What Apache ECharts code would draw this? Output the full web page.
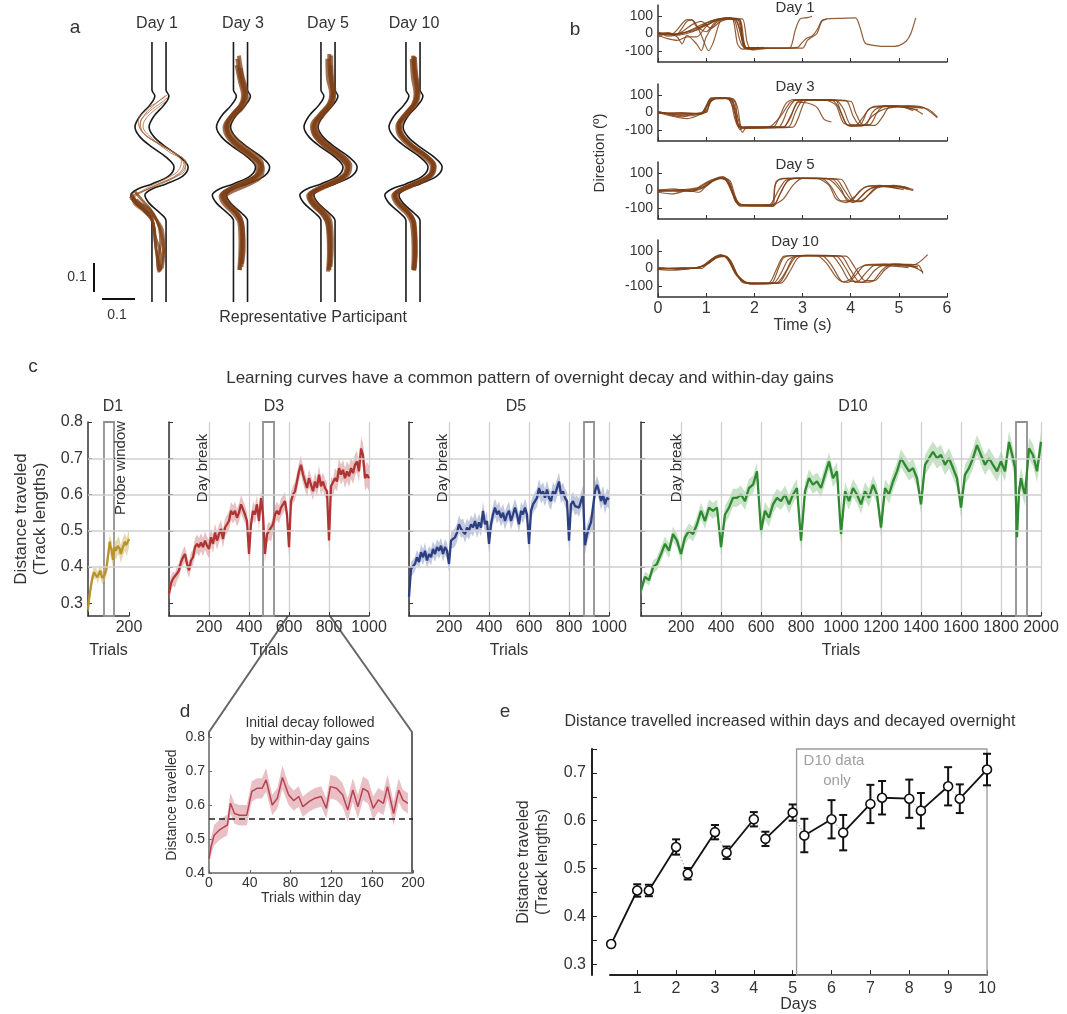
<!DOCTYPE html>
<html><head><meta charset="utf-8">
<script src="https://cdn.jsdelivr.net/npm/echarts/dist/echarts.min.js"></script>
<style>html,body{margin:0;padding:0;background:#fff}#chart{width:1067px;height:1014px}</style>
</head><body><div id="chart"></div>
<script>
// ================= DATA =================
// Panel a: track walls, in track-length units (x relative to track centre, y = height above track bottom)
const trackLeft = [[-0.022,0.8125],[-0.022,0.6625],[-0.013,0.644],[-0.028,0.616],[-0.0595,0.581],[-0.075,0.547],[-0.0595,0.516],[-0.022,0.484],[0.022,0.453],[0.047,0.422],[0.031,0.394],[-0.022,0.369],[-0.066,0.353],[-0.088,0.334],[-0.075,0.309],[-0.041,0.278],[-0.022,0.253],[-0.022,0]];
const trackRight = [[0.022,0.8125],[0.022,0.6625],[0.031,0.644],[0.016,0.616],[-0.0155,0.581],[-0.031,0.547],[-0.0155,0.516],[0.022,0.484],[0.066,0.453],[0.091,0.422],[0.075,0.394],[0.022,0.369],[-0.022,0.353],[-0.044,0.334],[-0.031,0.309],[0.003,0.278],[0.022,0.253],[0.022,0]];
const aDayLabels = ['Day 1','Day 3','Day 5','Day 10'];
const aTrajDay1Thin = [
 [[0.028,0.64],[0.01,0.625],[-0.03,0.595],[-0.058,0.56],[-0.05,0.53],[-0.01,0.5],[0.05,0.465],[0.085,0.435],[0.07,0.405],[0.02,0.375],[-0.04,0.35],[-0.08,0.33],[-0.07,0.3],[-0.03,0.27],[-0.01,0.22]],
 [[0.02,0.645],[-0.01,0.62],[-0.045,0.585],[-0.06,0.55],[-0.04,0.52],[0.01,0.49],[0.06,0.455],[0.078,0.43],[0.06,0.4],[0.0,0.37],[-0.05,0.345],[-0.085,0.325],[-0.075,0.3],[-0.04,0.28],[-0.015,0.24]],
 [[0.025,0.63],[0.0,0.61],[-0.035,0.58],[-0.05,0.55],[-0.02,0.51],[0.03,0.47],[0.07,0.44],[0.06,0.41],[0.03,0.39],[-0.03,0.36],[-0.07,0.335],[-0.08,0.315],[-0.06,0.29],[-0.02,0.255]],
 [[0.03,0.65],[0.0,0.628],[-0.04,0.6],[-0.065,0.565],[-0.055,0.535],[-0.02,0.505],[0.04,0.47],[0.08,0.44],[0.082,0.415],[0.05,0.39],[-0.01,0.365],[-0.06,0.34],[-0.09,0.32]]
];
const aTrajDay1 = [
 [[-0.09,0.33],[-0.075,0.31],[-0.045,0.285],[-0.02,0.25],[-0.01,0.2],[0.005,0.15],[0.0,0.11],[0.005,0.095]],
 [[-0.085,0.34],[-0.07,0.315],[-0.03,0.29],[-0.005,0.25],[0.01,0.2],[0.015,0.15],[0.01,0.105]],
 [[-0.08,0.325],[-0.06,0.3],[-0.025,0.27],[-0.015,0.22],[-0.01,0.17],[0.0,0.12],[0.008,0.1]],
 [[-0.075,0.345],[-0.05,0.315],[-0.02,0.28],[0.0,0.235],[0.005,0.18],[-0.005,0.13],[0.0,0.092]],
 [[-0.07,0.32],[-0.045,0.295],[-0.01,0.26],[0.012,0.22],[0.015,0.17],[0.01,0.13],[0.004,0.1]],
 [[-0.088,0.335],[-0.065,0.305],[-0.035,0.28],[-0.018,0.245],[-0.012,0.19],[-0.006,0.14],[-0.002,0.098]]
];
const aTrajDay3 = [
 [[-0.01,0.76],[0.0,0.70],[0.012,0.65],[0.005,0.62],[-0.025,0.585],[-0.045,0.55],[-0.035,0.52],[0.0,0.485],[0.04,0.455],[0.062,0.425],[0.05,0.395],[0.0,0.37],[-0.04,0.35],[-0.058,0.335],[-0.045,0.31],[-0.015,0.28],[0.0,0.25],[0.005,0.2],[0.0,0.12],[-0.002,0.1]],
 [[-0.005,0.77],[0.005,0.71],[0.018,0.655],[0.01,0.625],[-0.02,0.59],[-0.04,0.555],[-0.03,0.525],[0.005,0.49],[0.045,0.46],[0.068,0.43],[0.058,0.40],[0.01,0.372],[-0.035,0.352],[-0.052,0.338],[-0.04,0.312],[-0.01,0.28],[0.004,0.25],[0.008,0.19],[0.003,0.11]],
 [[-0.012,0.74],[-0.002,0.69],[0.008,0.645],[0.0,0.615],[-0.03,0.58],[-0.05,0.545],[-0.04,0.515],[-0.005,0.48],[0.035,0.45],[0.055,0.42],[0.045,0.39],[-0.005,0.365],[-0.045,0.345],[-0.062,0.33],[-0.05,0.305],[-0.02,0.275],[-0.003,0.245],[0.0,0.18],[-0.004,0.1]],
 [[0.0,0.73],[0.01,0.68],[0.02,0.64],[0.008,0.61],[-0.022,0.578],[-0.042,0.542],[-0.032,0.512],[0.004,0.478],[0.046,0.448],[0.07,0.418],[0.06,0.388],[0.012,0.362],[-0.033,0.342],[-0.05,0.327],[-0.038,0.302],[-0.008,0.272],[0.006,0.242],[0.01,0.17],[0.005,0.12]]
];
const aTrajDay5 = [
 [[0.004,0.775],[0.006,0.72],[0.014,0.66],[0.008,0.625],[-0.02,0.59],[-0.042,0.555],[-0.035,0.525],[0.0,0.49],[0.042,0.458],[0.064,0.428],[0.052,0.398],[0.004,0.372],[-0.04,0.35],[-0.056,0.335],[-0.045,0.31],[-0.012,0.278],[0.004,0.245],[0.008,0.17],[0.004,0.1]],
 [[0.01,0.77],[0.012,0.71],[0.02,0.655],[0.012,0.62],[-0.015,0.585],[-0.036,0.55],[-0.028,0.52],[0.006,0.486],[0.048,0.455],[0.07,0.426],[0.06,0.396],[0.012,0.37],[-0.034,0.35],[-0.05,0.336],[-0.04,0.312],[-0.008,0.28],[0.008,0.25],[0.012,0.18],[0.008,0.11]],
 [[-0.002,0.76],[0.0,0.70],[0.01,0.65],[0.002,0.618],[-0.028,0.583],[-0.05,0.55],[-0.042,0.52],[-0.006,0.484],[0.036,0.452],[0.058,0.422],[0.046,0.392],[-0.002,0.366],[-0.046,0.346],[-0.062,0.332],[-0.05,0.306],[-0.018,0.274],[-0.002,0.244],[0.003,0.16],[0.0,0.095]],
 [[0.008,0.74],[0.01,0.69],[0.018,0.645],[0.006,0.612],[-0.024,0.58],[-0.046,0.545],[-0.038,0.515],[-0.002,0.48],[0.04,0.45],[0.062,0.42],[0.05,0.39],[0.0,0.364],[-0.042,0.344],[-0.058,0.33],[-0.046,0.304],[-0.014,0.272],[0.0,0.24],[0.006,0.15],[0.002,0.1]]
];
const aTrajDay10 = [
 [[0.0,0.77],[0.004,0.72],[0.012,0.66],[0.006,0.625],[-0.022,0.59],[-0.045,0.553],[-0.037,0.522],[-0.002,0.487],[0.04,0.456],[0.063,0.426],[0.052,0.396],[0.003,0.37],[-0.042,0.35],[-0.058,0.335],[-0.046,0.31],[-0.014,0.278],[0.002,0.246],[0.006,0.17],[0.003,0.1]],
 [[0.006,0.765],[0.01,0.71],[0.018,0.655],[0.01,0.62],[-0.017,0.586],[-0.04,0.55],[-0.032,0.52],[0.003,0.485],[0.045,0.454],[0.068,0.424],[0.057,0.394],[0.008,0.368],[-0.037,0.348],[-0.053,0.334],[-0.041,0.308],[-0.01,0.276],[0.005,0.245],[0.009,0.16],[0.005,0.105]],
 [[-0.004,0.76],[0.0,0.70],[0.008,0.65],[0.0,0.616],[-0.027,0.582],[-0.049,0.548],[-0.041,0.518],[-0.006,0.483],[0.036,0.452],[0.059,0.422],[0.048,0.392],[-0.002,0.366],[-0.046,0.346],[-0.062,0.332],[-0.05,0.306],[-0.018,0.274],[-0.003,0.243],[0.002,0.15],[0.0,0.1]],
 [[0.003,0.768],[0.007,0.715],[0.015,0.658],[0.008,0.623],[-0.02,0.588],[-0.043,0.552],[-0.035,0.521],[0.0,0.486],[0.043,0.455],[0.066,0.425],[0.055,0.395],[0.005,0.369],[-0.04,0.349],[-0.056,0.334],[-0.044,0.309],[-0.012,0.277],[0.003,0.246],[0.007,0.165],[0.004,0.098]]
];

// Panel b: heading direction (deg) vs time (s), [t, deg]
const bYTicks = [-100, 0, 100];
const bDayLabels = ['Day 1','Day 3','Day 5','Day 10'];
const bTraceDay1 = [
 [[0,-5],[0.2,5],[0.4,-10],[0.6,0],[0.8,20],[1.0,60],[1.2,80],[1.4,85],[1.6,80],[1.7,20],[1.8,-80],[2.0,-82],[2.2,-80]],
 [[0,10],[0.2,-15],[0.4,-5],[0.6,70],[0.7,80],[0.8,40],[1.0,10],[1.2,70],[1.4,90],[1.55,85],[1.65,-60],[1.75,-90],[2.1,-80]],
 [[0,-20],[0.2,0],[0.4,-20],[0.5,-60],[0.6,-10],[0.8,-60],[0.9,-100],[1.0,-20],[1.2,60],[1.4,88],[1.7,80],[1.8,-70],[1.9,-90],[2.05,-85]],
 [[0,0],[0.3,-10],[0.5,10],[0.7,50],[0.9,70],[1.1,30],[1.3,70],[1.5,85],[1.75,85],[1.85,-50],[1.95,-95],[2.3,-85]],
 [[0,-10],[0.2,-30],[0.4,-40],[0.6,-20],[0.8,-20],[1.0,40],[1.2,80],[1.5,90],[1.6,70],[1.7,-40],[1.8,-85],[2.0,-88]],
 [[0,5],[0.3,0],[0.6,80],[0.75,70],[0.9,-10],[1.05,-100],[1.15,-50],[1.3,75],[1.45,90],[1.65,85],[1.75,-20],[1.85,-90],[2.0,-90]],
 [[0,0],[0.3,-5],[0.6,10],[0.9,50],[1.2,80],[1.45,88],[1.7,70],[1.8,-85],[2.0,-85],[2.6,-85],[2.75,-80],[2.85,20],[2.95,85],[3.1,92],[3.2,100]],
 [[0,0],[0.4,-5],[0.8,30],[1.1,60],[1.3,85],[1.6,85],[1.75,-40],[1.85,-85],[2.5,-85],[2.9,-80],[3.0,-50],[3.1,-25],[3.2,-15],[3.3,20],[3.4,75],[3.5,82]],
 [[0,-5],[0.4,0],[0.8,20],[1.2,75],[1.5,88],[1.7,80],[1.8,-80],[2.5,-85],[3.0,-85],[3.1,-40],[3.2,-20],[3.3,0],[3.4,70],[3.5,85],[3.8,88],[4.1,90],[4.2,30],[4.3,-55],[4.5,-70],[4.8,-75],[5.0,-70],[5.15,-45],[5.25,0],[5.35,90]]
];
const bTraceDay3 = [
 [[0,0],[0.5,-5],[0.9,-5],[1.0,40],[1.1,80],[1.4,82],[1.55,60],[1.65,-60],[1.75,-85],[2.4,-82],[2.5,-40],[2.65,50],[2.8,75],[3.5,70],[3.7,40],[3.85,-60],[4.1,-75],[4.25,-30],[4.4,25],[4.7,35],[5.1,30],[5.3,10]],
 [[0,5],[0.5,-25],[0.7,-10],[0.95,0],[1.05,60],[1.2,85],[1.45,80],[1.6,0],[1.7,-100],[1.8,-85],[2.6,-85],[2.75,-20],[2.9,60],[3.05,75],[3.7,70],[3.85,20],[4.0,-70],[4.3,-75],[4.45,0],[4.6,30],[5.0,35],[5.5,25]],
 [[0,0],[0.6,-35],[0.8,-20],[1.0,10],[1.15,80],[1.5,85],[1.65,-20],[1.75,-115],[1.85,-85],[2.7,-85],[2.85,0],[3.0,70],[3.2,75],[3.9,70],[4.05,-20],[4.2,-75],[4.5,-75],[4.65,-30],[4.8,30],[5.2,40],[5.5,30],[5.8,-30]],
 [[0,-5],[0.5,0],[0.9,-10],[1.0,30],[1.1,85],[1.55,80],[1.65,30],[1.72,-80],[1.8,-90],[2.5,-85],[2.7,20],[2.85,70],[3.5,75],[3.7,70],[3.8,0],[3.95,-75],[4.2,-70],[4.35,10],[4.5,35],[4.9,40],[5.3,20],[5.5,-10]],
 [[0,0],[0.5,-10],[1.0,0],[1.1,70],[1.4,85],[1.6,60],[1.7,-85],[2.6,-85],[2.75,-30],[2.9,60],[3.1,55],[3.3,30],[3.45,-40],[3.6,-55]],
 [[0,0],[0.4,-10],[0.9,0],[1.05,50],[1.2,80],[1.5,80],[1.65,-70],[1.8,-90],[2.3,-85],[2.55,-20],[2.75,60],[2.95,75],[3.6,72],[3.75,30],[3.9,-65],[4.0,-80],[4.25,-78],[4.45,-20],[4.7,20],[5.2,35],[5.6,20],[5.8,-25]],
 [[0,5],[0.6,-20],[1.0,5],[1.1,80],[1.35,85],[1.5,70],[1.6,-40],[1.7,-90],[2.8,-85],[2.9,-40],[3.05,65],[3.2,72],[4.0,65],[4.1,0],[4.25,-70],[4.4,-70],[4.55,0],[4.7,40],[5.0,35],[5.4,15]]
];
const bTraceDay5 = [
 [[0,-5],[0.4,0],[0.8,10],[1.0,40],[1.2,65],[1.35,70],[1.5,20],[1.65,-70],[1.8,-85],[2.35,-85],[2.45,50],[2.6,70],[3.4,70],[3.6,20],[3.8,-60],[4.0,-60],[4.2,0],[4.4,25],[4.8,20],[5.1,5]],
 [[0,0],[0.3,10],[0.7,-5],[0.9,30],[1.1,60],[1.3,75],[1.45,60],[1.6,-40],[1.75,-85],[2.4,-80],[2.55,-10],[2.7,60],[2.9,70],[3.6,68],[3.8,10],[3.95,-65],[4.1,-65],[4.3,-10],[4.5,20],[4.9,25],[5.2,10]],
 [[0,-10],[0.3,-20],[0.6,0],[0.9,10],[1.1,50],[1.3,70],[1.45,50],[1.55,-20],[1.7,-90],[2.4,-90],[2.5,-40],[2.65,40],[2.8,70],[3.5,70],[3.7,30],[3.9,-40],[4.05,-70],[4.2,-40],[4.4,10],[4.7,25],[5.0,20],[5.3,0]],
 [[0,5],[0.4,-5],[0.8,0],[1.0,30],[1.2,70],[1.35,80],[1.5,40],[1.6,-60],[1.75,-85],[2.4,-90],[2.42,20],[2.5,60],[2.7,70],[3.3,70],[3.55,30],[3.7,-50],[3.9,-70],[4.1,-30],[4.3,20],[4.6,30],[5.0,10]],
 [[0,0],[0.5,5],[0.85,-10],[1.05,40],[1.25,70],[1.4,65],[1.5,10],[1.65,-75],[1.8,-85],[2.3,-85],[2.5,0],[2.65,60],[2.9,72],[3.8,65],[3.95,0],[4.1,-65],[4.25,-60],[4.45,0],[4.6,25],[5.0,25],[5.3,5]],
 [[0,-5],[0.3,0],[0.7,10],[1.0,25],[1.15,55],[1.35,75],[1.5,55],[1.6,-30],[1.7,-85],[2.35,-85],[2.6,-50],[2.8,30],[3.0,70],[3.7,65],[3.85,10],[4.05,-60],[4.2,-60],[4.4,-20],[4.55,15],[4.9,30],[5.2,15]]
];
const bTraceDay10 = [
 [[0,0],[0.5,0],[0.9,10],[1.1,40],[1.3,75],[1.45,60],[1.6,-20],[1.8,-75],[2.0,-85],[2.35,-85],[2.5,0],[2.6,60],[2.75,75],[3.4,75],[3.6,20],[3.8,-70],[3.95,-80],[4.1,-40],[4.3,20],[4.7,25],[5.1,15],[5.4,10]],
 [[0,5],[0.4,-5],[0.8,5],[1.05,30],[1.25,70],[1.4,70],[1.55,0],[1.75,-70],[1.95,-90],[2.4,-85],[2.55,-30],[2.7,50],[2.9,75],[3.6,75],[3.8,10],[4.0,-75],[4.15,-75],[4.3,-30],[4.5,20],[5.0,25],[5.4,0]],
 [[0,-5],[0.5,5],[0.9,0],[1.1,50],[1.3,80],[1.5,50],[1.65,-40],[1.85,-85],[2.45,-85],[2.65,-20],[2.8,60],[3.0,75],[3.7,72],[3.9,0],[4.1,-80],[4.3,-75],[4.5,-10],[4.7,20],[5.2,20],[5.5,-20]],
 [[0,0],[0.4,0],[0.85,5],[1.0,30],[1.2,70],[1.35,75],[1.5,30],[1.7,-60],[1.9,-88],[2.5,-85],[2.7,0],[2.85,65],[3.1,78],[3.8,72],[4.0,-10],[4.2,-80],[4.45,-75],[4.65,-10],[4.85,25],[5.3,20],[5.6,80]],
 [[0,-5],[0.3,-10],[0.7,0],[1.0,20],[1.2,60],[1.4,70],[1.55,20],[1.75,-80],[2.0,-88],[2.3,-85],[2.45,-10],[2.6,70],[2.8,75],[3.3,75],[3.5,30],[3.7,-50],[3.85,-78],[4.0,-60],[4.15,0],[4.35,20],[4.8,15],[5.2,5]],
 [[0,5],[0.5,0],[0.9,10],[1.1,50],[1.3,75],[1.45,65],[1.6,-30],[1.8,-80],[2.0,-85],[2.55,-85],[2.75,-10],[2.9,60],[3.1,75],[3.9,72],[4.1,0],[4.3,-70],[4.5,-70],[4.7,-10],[4.9,25],[5.4,20],[5.5,-30]]
];

// Panel c: learning curves, rows = [trial, mean distance, band half-width]
const cYTicks = [0.3,0.4,0.5,0.6,0.7,0.8];
const cGridValues = [0.4,0.5,0.6,0.7];
const cDayLabels = ['D1','D3','D5','D10'];
const cProbe = [[78,127],[470,525],[875,925],[1875,1930]];
const cD1 = [[0,.283,.012],[5,.31,.014],[10,.33,.015],[15,.35,.015],[20,.366,.016],[25,.378,.016],[30,.386,.016],[35,.38,.016],[40,.385,.016],[45,.372,.016],[50,.375,.016],[55,.384,.016],[60,.39,.018],[65,.378,.018],[70,.37,.018],[75,.375,.018],[80,.378,.018],[85,.385,.018],[90,.395,.02],[95,.42,.02],[100,.44,.02],[106,.47,.025],[110,.455,.025],[115,.449,.025],[122,.42,.025],[126,.44,.025],[130,.455,.025],[135,.445,.025],[140,.45,.025],[145,.458,.025],[150,.46,.025],[155,.45,.025],[160,.436,.025],[165,.445,.025],[170,.455,.025],[175,.462,.025],[180,.47,.025],[185,.46,.025],[190,.455,.025],[195,.47,.025],[200,.478,.025]];
const cD3 = [[0,.327,.02],[10,.355,.02],[20,.368,.02],[30,.364,.02],[40,.382,.02],[50,.391,.02],[60,.414,.02],[70,.427,.022],[80,.436,.022],[90,.409,.022],[100,.391,.022],[110,.418,.022],[120,.427,.022],[130,.455,.025],[140,.464,.025],[150,.455,.025],[160,.468,.025],[170,.455,.025],[180,.473,.025],[190,.459,.025],[200,.45,.025],[210,.482,.025],[220,.464,.025],[230,.495,.025],[240,.473,.025],[250,.491,.025],[260,.505,.025],[270,.477,.025],[280,.509,.025],[290,.518,.025],[300,.527,.025],[310,.555,.025],[320,.545,.025],[330,.555,.025],[340,.536,.025],[350,.55,.025],[360,.573,.025],[370,.559,.025],[380,.545,.025],[390,.527,.025],[400,.436,.025],[410,.518,.025],[420,.555,.025],[430,.545,.025],[440,.573,.025],[450,.527,.025],[460,.59,.025],[470,.545,.025],[480,.436,.025],[490,.491,.025],[500,.5,.025],[510,.495,.025],[520,.518,.025],[530,.545,.025],[540,.555,.025],[550,.545,.025],[560,.564,.025],[570,.573,.025],[580,.582,.025],[590,.545,.025],[600,.455,.025],[610,.582,.025],[620,.6,.025],[630,.609,.025],[640,.636,.025],[650,.664,.025],[660,.682,.025],[670,.655,.025],[680,.636,.025],[690,.618,.025],[700,.645,.025],[710,.627,.025],[720,.609,.025],[730,.636,.025],[740,.618,.025],[750,.655,.025],[760,.623,.025],[770,.636,.025],[780,.618,.025],[790,.609,.025],[800,.473,.025],[810,.623,.025],[820,.618,.025],[830,.645,.028],[840,.636,.028],[850,.673,.028],[860,.655,.028],[870,.668,.028],[880,.645,.028],[890,.664,.028],[900,.65,.03],[910,.673,.03],[920,.659,.03],[930,.682,.03],[940,.691,.03],[950,.664,.03],[960,.727,.03],[970,.709,.035],[980,.645,.035],[990,.655,.035],[1000,.645,.035]];
const cD5 = [[0,.318,.02],[10,.395,.02],[20,.4,.02],[30,.409,.02],[40,.427,.02],[50,.414,.02],[60,.441,.022],[70,.427,.022],[80,.445,.022],[90,.418,.022],[100,.436,.022],[110,.427,.022],[120,.45,.022],[130,.436,.022],[140,.455,.022],[150,.445,.022],[160,.459,.022],[170,.436,.022],[180,.455,.022],[190,.445,.022],[200,.409,.022],[210,.473,.022],[220,.477,.025],[230,.482,.025],[240,.495,.025],[250,.518,.025],[260,.505,.025],[270,.509,.025],[280,.491,.025],[290,.509,.025],[300,.5,.025],[310,.518,.025],[320,.509,.025],[330,.527,.025],[340,.505,.025],[350,.523,.025],[360,.509,.025],[370,.555,.025],[380,.518,.025],[390,.527,.025],[400,.464,.025],[410,.518,.025],[420,.545,.025],[430,.564,.025],[440,.545,.025],[450,.555,.025],[460,.536,.025],[470,.55,.025],[480,.527,.025],[490,.545,.025],[500,.555,.025],[510,.527,.025],[520,.545,.025],[530,.564,.025],[540,.545,.025],[550,.518,.025],[560,.555,.025],[570,.545,.025],[580,.564,.025],[590,.545,.025],[600,.464,.025],[610,.555,.025],[620,.573,.025],[630,.582,.025],[640,.591,.025],[650,.618,.025],[660,.6,.025],[670,.609,.025],[680,.591,.025],[690,.614,.025],[700,.591,.025],[710,.582,.025],[720,.609,.025],[730,.6,.025],[740,.618,.025],[750,.636,.025],[760,.6,.025],[770,.609,.025],[780,.591,.025],[790,.582,.025],[800,.473,.025],[810,.573,.025],[820,.582,.025],[830,.568,.025],[840,.573,.025],[850,.564,.025],[860,.582,.025],[870,.6,.025],[880,.46,.025],[890,.49,.025],[900,.509,.025],[910,.523,.025],[920,.518,.025],[930,.609,.025],[940,.627,.025],[950,.609,.025],[960,.582,.025],[970,.6,.025],[980,.573,.025],[990,.591,.025],[1000,.586,.025]];
const cD10 = [[0,.336,.015],[20,.373,.015],[40,.364,.015],[60,.4,.018],[80,.409,.018],[100,.436,.02],[120,.464,.02],[140,.445,.02],[160,.491,.02],[180,.473,.02],[200,.436,.02],[220,.482,.02],[240,.5,.02],[260,.491,.02],[280,.518,.022],[300,.555,.022],[320,.527,.022],[340,.564,.022],[360,.555,.022],[380,.564,.022],[400,.455,.022],[420,.545,.025],[440,.564,.025],[460,.591,.025],[480,.591,.025],[500,.6,.025],[520,.582,.025],[540,.618,.025],[560,.627,.025],[580,.664,.025],[600,.5,.025],[620,.555,.025],[640,.536,.025],[660,.573,.025],[680,.591,.025],[700,.582,.025],[720,.6,.025],[740,.573,.025],[760,.6,.025],[780,.618,.025],[800,.473,.025],[820,.609,.025],[840,.645,.025],[860,.627,.025],[880,.636,.025],[900,.618,.025],[920,.655,.025],[940,.691,.025],[960,.645,.025],[980,.664,.025],[1000,.491,.025],[1020,.609,.025],[1040,.582,.025],[1060,.618,.025],[1080,.6,.025],[1100,.573,.025],[1120,.609,.025],[1140,.591,.025],[1160,.627,.025],[1180,.6,.025],[1200,.509,.025],[1220,.618,.025],[1240,.6,.025],[1260,.636,.025],[1280,.664,.025],[1300,.7,.025],[1320,.682,.025],[1340,.664,.025],[1360,.673,.025],[1380,.645,.025],[1400,.573,.025],[1420,.682,.028],[1440,.7,.028],[1460,.718,.028],[1480,.7,.028],[1500,.709,.028],[1520,.682,.028],[1540,.7,.028],[1560,.673,.028],[1580,.645,.028],[1600,.564,.028],[1620,.655,.028],[1640,.673,.028],[1660,.7,.028],[1680,.736,.028],[1700,.709,.028],[1720,.682,.028],[1740,.7,.028],[1760,.682,.028],[1780,.664,.028],[1800,.691,.028],[1820,.664,.028],[1840,.745,.03],[1860,.7,.03],[1870,.673,.03],[1880,.482,.03],[1890,.609,.03],[1900,.645,.03],[1910,.618,.03],[1920,.6,.03],[1940,.727,.03],[1960,.709,.03],[1980,.664,.03],[2000,.745,.03]];

// Panel d: first 200 trials of day 3, rows = [trial, mean, band half-width]
const dCurve = [[0,.442,.02],[2,.477,.025],[5,.511,.03],[10,.526,.03],[15,.536,.03],[18,.541,.03],[21,.605,.03],[25,.575,.03],[30,.570,.03],[37,.570,.03],[42,.64,.03],[47,.649,.03],[52,.649,.03],[56,.674,.035],[62,.6,.03],[67,.62,.03],[72,.681,.035],[78,.63,.03],[83,.613,.03],[88,.625,.03],[92,.595,.03],[98,.61,.03],[104,.62,.03],[110,.625,.03],[115,.59,.03],[119,.654,.035],[125,.649,.035],[131,.63,.035],[136,.585,.035],[141,.644,.035],[146,.595,.035],[151,.649,.035],[156,.639,.035],[161,.59,.035],[166,.615,.035],[171,.605,.035],[175,.654,.035],[181,.575,.035],[186,.644,.035],[190,.615,.03],[195,.605,.03]];
const dBaseline = 0.555;

// Panel e: start / end of each day
const eDay  = [0.33,1.0,1.3,2.0,2.3,3.0,3.3,4.0,4.3,5.0,5.3,6.0,6.3,7.0,7.3,8.0,8.3,9.0,9.3,10.0];
const eMean = [0.342,0.454,0.454,0.545,0.489,0.576,0.533,0.603,0.562,0.617,0.569,0.603,0.575,0.635,0.648,0.646,0.621,0.672,0.646,0.707];
const eErr  = [0.005,0.013,0.012,0.016,0.012,0.015,0.013,0.015,0.015,0.017,0.035,0.04,0.037,0.04,0.035,0.04,0.037,0.04,0.03,0.033];
const eXTicks = [1,2,3,4,5,6,7,8,9,10];
const eYLabels = [0.3,0.4,0.5,0.6,0.7];
const eYTicks = [0.3,0.35,0.4,0.45,0.5,0.55,0.6,0.65,0.7,0.75];
const eD10Box = [5.1, 10];

// ================= CHART =================
const FONT = "'Liberation Sans', Arial, Helvetica, sans-serif";
const INK = '#333';
const BROWN = '#7e3f15';
const grids = [], xAxis = [], yAxis = [], series = [], graphic = [];
function addGrid(g, xa, ya) {
  const i = grids.length;
  grids.push(g);
  xAxis.push(Object.assign({gridIndex: i, type: 'value'}, xa));
  yAxis.push(Object.assign({gridIndex: i, type: 'value'}, ya));
  return i;
}
function txt(x, y, text, size, o) {
  o = o || {};
  graphic.push({type: 'text', x: x, y: y, rotation: o.rot || 0, silent: true, z: 50,
    style: {text: text, fill: o.color || INK, font: size + 'px ' + FONT,
      textAlign: o.align || 'center', textVerticalAlign: 'middle', align: o.align || 'center', verticalAlign: 'middle'}});
}
const axLine = {show: true, onZero: false, lineStyle: {color: '#333', width: 1.5}};
const lbl = (sz, extra) => Object.assign({color: INK, fontSize: sz, fontFamily: FONT}, extra || {});

// ---- Panel a ----
const aCentres = [159, 240.5, 328, 413];
const aTraj = [aTrajDay1, aTrajDay3, aTrajDay5, aTrajDay10];
aCentres.forEach((cx, k) => {
  const gi = addGrid({left: cx - 40, top: 42, width: 80, height: 260},
    {min: -0.125, max: 0.125, show: false}, {min: 0, max: 0.8125, show: false});
  [trackLeft, trackRight].forEach(w => series.push({type: 'line', xAxisIndex: gi, yAxisIndex: gi, data: w,
    showSymbol: false, smooth: 0.35, clip: false, silent: true, z: 3, lineStyle: {color: '#1a1a1a', width: 1.6}}));
  if (k === 0) aTrajDay1Thin.forEach(t => series.push({type: 'line', xAxisIndex: gi, yAxisIndex: gi, data: t,
    showSymbol: false, smooth: 0.4, clip: false, silent: true, z: 4, lineStyle: {color: '#a8683c', width: 1, opacity: 0.8}}));
  aTraj[k].forEach(t => series.push({type: 'line', xAxisIndex: gi, yAxisIndex: gi, data: t,
    showSymbol: false, smooth: 0.4, clip: false, silent: true, z: 4, lineStyle: {color: BROWN, width: k === 0 ? 2.8 : 4, opacity: 0.75}}));
  txt([157, 243, 328, 414][k], 24, aDayLabels[k], 16);
});
txt(313, 318, 'Representative Participant', 16);
txt(77, 277, '0.1', 14);
txt(117, 315, '0.1', 14);
graphic.push({type: 'line', shape: {x1: 94, y1: 263, x2: 94, y2: 292}, style: {stroke: '#111', lineWidth: 2}, silent: true});
graphic.push({type: 'line', shape: {x1: 102, y1: 299, x2: 135, y2: 299}, style: {stroke: '#111', lineWidth: 2}, silent: true});

// ---- Panel b ----
const bTops = [5, 84, 162, 240];
const bTraces = [bTraceDay1, bTraceDay3, bTraceDay5, bTraceDay10];
bTops.forEach((top, k) => {
  const last = k === 3;
  const gi = addGrid({left: 658, top: top, width: 289, height: 57},
    {min: 0, max: 6, interval: 1, axisLine: axLine, axisTick: {inside: true, length: 4, lineStyle: {color: '#333'}},
     axisLabel: lbl(16, {show: last, margin: 4}), splitLine: {show: false},
     name: last ? 'Time (s)' : '', nameLocation: 'middle', nameGap: 19, nameTextStyle: lbl(16)},
    {min: -165, max: 165, axisLine: axLine, axisTick: {inside: true, length: 4, customValues: bYTicks, lineStyle: {color: '#333'}},
     axisLabel: lbl(14, {customValues: bYTicks, margin: 5}), splitLine: {show: false}});
  bTraces[k].forEach(t => series.push({type: 'line', xAxisIndex: gi, yAxisIndex: gi, data: t, showSymbol: false,
    smooth: 0.25, silent: true, z: 3, lineStyle: {color: BROWN, width: 1.2, opacity: 0.85}}));
  txt(795, [8, 87, 165, 242][k], bDayLabels[k], 15);
});
txt(600, 153, 'Direction (º)', 15, {rot: Math.PI / 2});

// ---- Panel c ----
const bg = addGrid({left: 88, top: 422, width: 953, height: 194}, {min: 0, max: 1, show: false}, {min: 0.265, max: 0.8, show: false});
series.push({type: 'line', xAxisIndex: bg, yAxisIndex: bg, data: [], silent: true, z: 1,
  markLine: {silent: true, symbol: 'none', label: {show: false}, lineStyle: {color: '#cfcfcf', width: 1.5, type: 'solid'},
    data: cGridValues.map(v => ({yAxis: v}))}});
const cSpecs = [
  {rows: cD1, left: 88, width: 41, max: 200, line: '#b8922a', band: 'rgba(212,185,110,0.55)', split: false},
  {rows: cD3, left: 169, width: 200, max: 1000, line: '#b03434', band: 'rgba(205,120,120,0.45)', split: true},
  {rows: cD5, left: 409, width: 200, max: 1000, line: '#2c3f82', band: 'rgba(120,135,185,0.45)', split: true},
  {rows: cD10, left: 641, width: 400, max: 2000, line: '#2e8a2e', band: 'rgba(130,190,130,0.45)', split: true}
];
const cTitleX = [113, 274, 516, 853];
function bandSeries(gi, rows, color, z) {
  return {type: 'custom', xAxisIndex: gi, yAxisIndex: gi, silent: true, z: z || 2,
    data: [[rows[0][0], rows[0][1]]],
    renderItem: (p, api) => {
      const up = rows.map(r => api.coord([r[0], r[1] + r[2]]));
      const lo = rows.map(r => api.coord([r[0], r[1] - r[2]])).reverse();
      return {type: 'polygon', shape: {points: up.concat(lo)}, style: {fill: color}};
    }};
}
cSpecs.forEach((s, k) => {
  const gi = addGrid({left: s.left, top: 422, width: s.width, height: 194},
    {min: 0, max: s.max, interval: 200, axisLine: axLine, axisTick: {inside: true, length: 4, lineStyle: {color: '#333'}},
     axisLabel: lbl(16, {margin: 4, formatter: v => v === 0 ? '' : String(v)}),
     splitLine: {show: s.split, lineStyle: {color: '#cfcfcf', width: 1.3}},
     name: 'Trials', nameLocation: 'middle', nameGap: 27, nameTextStyle: lbl(16)},
    Object.assign({min: 0.265, max: 0.8, axisLine: axLine, splitLine: {show: false},
     axisTick: {inside: true, length: 4, customValues: cYTicks, lineStyle: {color: '#333'}},
     axisLabel: lbl(16, {show: k === 0, customValues: cYTicks, margin: 5, formatter: v => v.toFixed(1)})},
     k === 0 ? {name: 'Distance traveled\n(Track lengths)', nameLocation: 'middle', nameGap: 38,
       nameTextStyle: lbl(17, {lineHeight: 19})} : {}));
  series.push(bandSeries(gi, s.rows, s.band, 2));
  series.push({type: 'line', xAxisIndex: gi, yAxisIndex: gi, data: s.rows.map(r => [r[0], r[1]]), showSymbol: false,
    silent: true, z: 3, lineStyle: {color: s.line, width: 2.3},
    markArea: {silent: true, itemStyle: {color: 'rgba(0,0,0,0)', borderColor: '#909090', borderWidth: 1.8},
      data: [[{xAxis: cProbe[k][0], yAxis: 0.8}, {xAxis: cProbe[k][1], yAxis: 0.265}]]}});
  txt(cTitleX[k], 407, cDayLabels[k], 16);
});
txt(530, 378, 'Learning curves have a common pattern of overnight decay and within-day gains', 17);
txt(121, 468, 'Probe window', 15, {rot: Math.PI / 2});
[203, 443, 677].forEach(x => txt(x, 468, 'Day break', 15, {rot: Math.PI / 2}));

// connectors from D3 to panel d
graphic.push({type: 'polyline', silent: true, shape: {points: [[288, 616], [209, 732], [209, 737]]}, style: {stroke: '#666', lineWidth: 2, fill: null}});
graphic.push({type: 'polyline', silent: true, shape: {points: [[330, 616], [412, 732], [412, 873]]}, style: {stroke: '#666', lineWidth: 2, fill: null}});

// ---- Panel d ----
const dg = addGrid({left: 209, top: 737, width: 204, height: 136},
  {min: 0, max: 200, interval: 40, axisLine: {show: true, onZero: false, lineStyle: {color: '#666', width: 1.5}},
   axisTick: {inside: true, length: 3, lineStyle: {color: '#666'}}, axisLabel: lbl(14, {margin: 3}), splitLine: {show: false},
   name: 'Trials within day', nameLocation: 'middle', nameGap: 14, nameTextStyle: lbl(14)},
  {min: 0.4, max: 0.8, interval: 0.1, axisLine: {show: true, onZero: false, lineStyle: {color: '#666', width: 1.5}},
   axisTick: {inside: true, length: 3, lineStyle: {color: '#666'}}, axisLabel: lbl(14, {margin: 4, formatter: v => v.toFixed(1)}),
   splitLine: {show: false}, name: 'Distance travelled', nameLocation: 'middle', nameGap: 30, nameTextStyle: lbl(14)});
series.push(bandSeries(dg, dCurve, 'rgba(215,140,150,0.55)', 2));
series.push({type: 'line', xAxisIndex: dg, yAxisIndex: dg, data: dCurve.map(r => [r[0], r[1]]), showSymbol: false,
  silent: true, z: 3, lineStyle: {color: '#b84352', width: 1.5},
  markLine: {silent: true, symbol: 'none', label: {show: false}, lineStyle: {color: '#222', width: 1.5, type: [6, 4]},
    data: [{yAxis: dBaseline}]}});
txt(310, 723, 'Initial decay followed', 14);
txt(310, 741, 'by within-day gains', 14);

// ---- Panel e ----
const eg = addGrid({left: 610, top: 749, width: 377, height: 227},
  {min: 0.3, max: 10, axisLine: {show: true, onZero: false, lineStyle: {color: '#222', width: 2}},
   axisTick: {inside: true, length: 5, customValues: eXTicks, lineStyle: {color: '#222'}},
   axisLabel: lbl(16, {customValues: eXTicks, margin: 5}), splitLine: {show: false},
   name: 'Days', nameLocation: 'middle', nameGap: 21, nameTextStyle: lbl(16)},
  {min: 0.277, max: 0.75, offset: 18, axisLine: {show: true, onZero: false, lineStyle: {color: '#222', width: 2}},
   axisTick: {inside: true, length: 5, customValues: eYTicks, lineStyle: {color: '#222'}},
   axisLabel: lbl(16, {customValues: eYLabels, margin: 6, formatter: v => v.toFixed(1)}), splitLine: {show: false},
   name: 'Distance traveled\n(Track lengths)', nameLocation: 'middle', nameGap: 40, nameTextStyle: lbl(16, {lineHeight: 19})});
series.push({type: 'line', xAxisIndex: eg, yAxisIndex: eg, data: [], silent: true,
  markArea: {silent: true, itemStyle: {color: 'rgba(0,0,0,0)', borderColor: '#9a9a9a', borderWidth: 1.3},
    data: [[{xAxis: eD10Box[0], yAxis: 0.75}, {xAxis: eD10Box[1], yAxis: 0.277}]]}});
for (let i = 0; i + 1 < eDay.length; i++) {
  const within = i % 2 === 0;
  series.push({type: 'line', xAxisIndex: eg, yAxisIndex: eg, data: [[eDay[i], eMean[i]], [eDay[i + 1], eMean[i + 1]]],
    showSymbol: false, silent: true, clip: false, z: within ? 3 : 2,
    lineStyle: within ? {color: '#111', width: 1.8} : {color: '#999', width: 1, type: [1.5, 2]}});
}
series.push({type: 'custom', xAxisIndex: eg, yAxisIndex: eg, silent: true, z: 4,
  data: eDay.map((d, i) => [d, eMean[i], eErr[i]]),
  renderItem: (p, api) => {
    const x = api.value(0), m = api.value(1), e = api.value(2);
    const t = api.coord([x, m + e]), b = api.coord([x, m - e]);
    const st = {stroke: '#111', lineWidth: 2};
    return {type: 'group', children: [
      {type: 'line', shape: {x1: t[0], y1: t[1], x2: b[0], y2: b[1]}, style: st},
      {type: 'line', shape: {x1: t[0] - 4, y1: t[1], x2: t[0] + 4, y2: t[1]}, style: st},
      {type: 'line', shape: {x1: b[0] - 4, y1: b[1], x2: b[0] + 4, y2: b[1]}, style: st}]};
  }});
series.push({type: 'scatter', xAxisIndex: eg, yAxisIndex: eg, data: eDay.map((d, i) => [d, eMean[i]]), silent: true, z: 6,
  clip: false, symbol: 'circle', symbolSize: 9, itemStyle: {color: '#ffffff', opacity: 1, borderColor: '#111', borderWidth: 1.6}});
txt(790, 722, 'Distance travelled increased within days and decayed overnight', 16);
txt(834, 761, 'D10 data', 15, {color: '#a0a0a0'});
txt(837, 781, 'only', 15, {color: '#a0a0a0'});

// panel letters
txt(75, 28, 'a', 19); txt(575, 30, 'b', 19); txt(33, 367, 'c', 19); txt(185, 712, 'd', 19); txt(505, 712, 'e', 19);

const chart = echarts.init(document.getElementById('chart'));
chart.setOption({animation: false, backgroundColor: '#fff', textStyle: {fontFamily: FONT},
  grid: grids, xAxis: xAxis, yAxis: yAxis, series: series, graphic: graphic});
</script></body></html>
